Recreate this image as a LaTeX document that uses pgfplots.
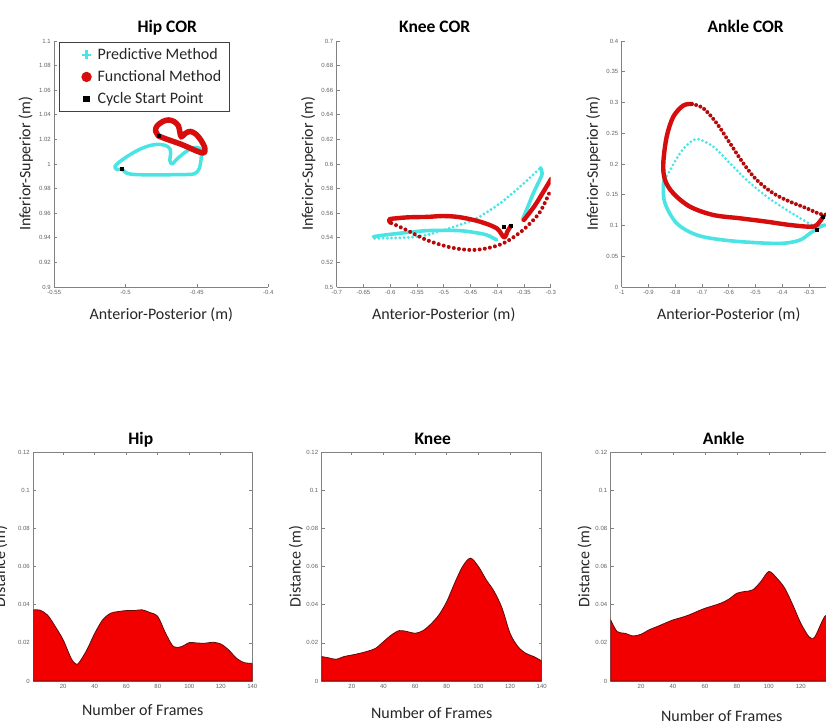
\documentclass[border=0pt]{standalone}
\usepackage{pgfplots}
\pgfplotsset{compat=1.18}
\usepackage{fontspec}
\setmainfont{Carlito}
\newfontfamily\tickfont{Liberation Sans}

\definecolor{cy}{RGB}{75,228,228}
\definecolor{rd}{RGB}{215,12,12}
\definecolor{rdd}{RGB}{180,10,10}
\definecolor{fillred}{RGB}{242,0,0}
\definecolor{edge}{RGB}{95,12,12}
\definecolor{axgray}{RGB}{130,130,130}

\pgfplotsset{
  matlab/.style={
    scale only axis,
    tick align=inside,
    major tick length=3pt,
    axis line style={axgray, line width=0.7pt},
    every tick/.style={axgray, line width=0.6pt},
    tick label style={font=\fontsize{6}{7}\selectfont\tickfont, text=black!62},
    /pgf/number format/assume math mode=true,
    /pgf/number format/fixed,
    /pgf/number format/precision=2,
  },
  topcor/.style={
    matlab, width=214pt, height=246pt,
    axis x line*=bottom, axis y line*=left,
    x axis line style={-}, y axis line style={-},
    xlabel={Anterior-Posterior (m)}, ylabel={Inferior-Superior (m)},
    every axis x label/.style={at={(axis description cs:0.5,-0.114)}, anchor=center, font=\fontsize{16}{18}\selectfont, text=black!85},
    every axis y label/.style={at={(axis description cs:-0.133,0.5)}, anchor=center, rotate=90, font=\fontsize{16}{18}\selectfont, text=black!85},
    every axis title/.style={at={(axis description cs:0.5,1)}, anchor=base, yshift=8pt, font=\fontsize{17.5}{19}\selectfont\bfseries},
  },
  bot/.style={
    matlab, height=229pt,
    xmin=1, xmax=140, ymin=0, ymax=0.12,
    xtick={20,40,60,80,100,120,140},
    ytick={0,0.02,0.04,0.06,0.08,0.1,0.12},
    xlabel={Number of Frames}, ylabel={Distance (m)},
    every axis y label/.style={at={(axis description cs:#1,0.5)}, anchor=center, rotate=90, font=\fontsize{16}{18}\selectfont, text=black!85},
    every axis title/.style={at={(axis description cs:0.5,1)}, anchor=base, yshift=7pt, font=\fontsize{17.5}{19}\selectfont\bfseries},
  },
  dense/.style={forget plot, smooth, tension=0.55, line cap=round, line join=round},
  dots/.style={forget plot, smooth, tension=0.55, line cap=round, dash pattern=on 0pt off #1},
}

\begin{document}
\begin{tikzpicture}
\useasboundingbox (0pt,0pt) rectangle (826pt,725pt);
\clip (0pt,0pt) rectangle (826pt,725pt);

%================ Hip COR =================
\begin{axis}[topcor, at={(54.3pt,438pt)}, anchor=south west,
  title={Hip COR}, title style={xshift=6pt},
  xmin=-0.55, xmax=-0.4, ymin=0.9, ymax=1.1,
  xtick={-0.55,-0.5,-0.45,-0.4},
  ytick={0.9,0.92,0.94,0.96,0.98,1,1.02,1.04,1.06,1.08,1.1},
  legend style={at={(axis description cs:0.022,0.996)}, anchor=north west,
    draw=black!75, line width=1.1pt, font=\fontsize{16}{18}\selectfont,
    text=black!85, row sep=5.5pt, inner xsep=6pt, inner ysep=4pt},
  legend cell align=left,
  legend image code/.code={\path[draw=none,fill=none] (0pt,0pt) -- (30pt,0pt); \path[#1,draw=none] (0pt,0pt); \pgfplotsset{#1}\draw[#1] plot[only marks] coordinates {(21pt,0pt)};},
]
\addlegendimage{only marks, mark=+, mark size=4.5pt, cy, line width=2.6pt}
\addlegendentry{Predictive Method}
\addlegendimage{only marks, mark=*, mark size=4.6pt, rd}
\addlegendentry{Functional Method}
\addlegendimage{only marks, mark=square*, mark size=2.6pt, black}
\addlegendentry{Cycle Start Point}

\addplot[dense, draw=cy, line width=3.5pt] coordinates {
(-0.5028,0.9960) (-0.4990,0.9925) (-0.4940,0.9915) (-0.4870,0.9912) (-0.4790,0.9912)
(-0.4710,0.9912) (-0.4630,0.9914) (-0.4560,0.9915) (-0.4515,0.9922) (-0.4485,0.9960)
(-0.4472,1.0030) (-0.4470,1.0090) (-0.4480,1.0125) (-0.4510,1.0135) (-0.4550,1.0120)
(-0.4595,1.0085) (-0.4640,1.0040) (-0.4675,1.0000) (-0.4690,1.0030) (-0.4685,1.0080)
(-0.4690,1.0125) (-0.4720,1.0150) (-0.4770,1.0160) (-0.4830,1.0150) (-0.4900,1.0120)
(-0.4970,1.0075) (-0.5040,1.0020) (-0.5075,0.9980) (-0.5060,0.9955) (-0.5028,0.9960)};
\addplot[dense, draw=rd, line width=5.5pt] coordinates {
(-0.4770,1.0228) (-0.4790,1.0270) (-0.4780,1.0310) (-0.4740,1.0345) (-0.4700,1.0358)
(-0.4660,1.0345) (-0.4630,1.0310) (-0.4620,1.0260) (-0.4610,1.0220) (-0.4580,1.0250)
(-0.4545,1.0265) (-0.4505,1.0240) (-0.4470,1.0190) (-0.4445,1.0130) (-0.4450,1.0090)
(-0.4490,1.0100) (-0.4550,1.0130) (-0.4610,1.0160) (-0.4670,1.0185) (-0.4720,1.0205)
(-0.4770,1.0228)};
\addplot[forget plot, only marks, mark=square*, mark size=1.5pt, black] coordinates {
(-0.5028,0.9960) (-0.4770,1.0228)};
\end{axis}

%================ Knee COR =================
\begin{axis}[topcor, at={(336.7pt,438pt)}, anchor=south west,
  title={Knee COR}, title style={xshift=-9pt},
  xmin=-0.7, xmax=-0.3, ymin=0.5, ymax=0.7,
  xtick={-0.7,-0.65,-0.6,-0.55,-0.5,-0.45,-0.4,-0.35,-0.3},
  ytick={0.5,0.52,0.54,0.56,0.58,0.6,0.62,0.64,0.66,0.68,0.7},
]
\addplot[dense, draw=cy, line width=3.6pt] coordinates {
(-0.4009,0.5382) (-0.4196,0.5423) (-0.4450,0.5445) (-0.4695,0.5458) (-0.5000,0.5460)
(-0.5318,0.5458) (-0.5650,0.5445) (-0.5942,0.5431) (-0.6150,0.5420) (-0.6316,0.5409)};
\addplot[dots=4.2pt, draw=cy, line width=3.2pt] coordinates {
(-0.6290,0.5395) (-0.6000,0.5398) (-0.5630,0.5404) (-0.5300,0.5425) (-0.5007,0.5463)
(-0.4700,0.5505) (-0.4383,0.5558) (-0.3948,0.5680) (-0.3574,0.5815) (-0.3200,0.5965)};
\addplot[dense, draw=cy, line width=3.6pt] coordinates {
(-0.3190,0.5970) (-0.3160,0.5920) (-0.3240,0.5840) (-0.3325,0.5762) (-0.3420,0.5660) (-0.3530,0.5545)};
\addplot[dense, draw=rd, line width=4.4pt] coordinates {
(-0.3748,0.5496) (-0.3810,0.5450) (-0.3873,0.5404) (-0.4009,0.5477) (-0.4321,0.5531)
(-0.4695,0.5567) (-0.5007,0.5577) (-0.5300,0.5570) (-0.5630,0.5567) (-0.5850,0.5560)
(-0.6017,0.5550) (-0.6000,0.5525)};
\addplot[dots=5.2pt, draw=rdd, line width=4pt] coordinates {
(-0.5980,0.5520) (-0.5692,0.5463) (-0.5318,0.5382) (-0.4882,0.5323) (-0.4508,0.5301)
(-0.4196,0.5314) (-0.3886,0.5355) (-0.3636,0.5423) (-0.3449,0.5490) (-0.3200,0.5610) (-0.3010,0.5780)};
\addplot[dense, draw=rd, line width=4.4pt] coordinates {
(-0.3500,0.5545) (-0.3300,0.5660) (-0.3135,0.5775) (-0.2990,0.5880)};
\addplot[forget plot, only marks, mark=square*, mark size=1.5pt, black] coordinates {
(-0.3886,0.5490) (-0.3748,0.5496)};
\end{axis}

%================ Ankle COR =================
\begin{axis}[topcor, at={(621.7pt,438pt)}, anchor=south west,
  title={Ankle COR}, title style={xshift=17pt},
  xmin=-1, xmax=-0.2, ymin=0, ymax=0.4,
  xtick={-1,-0.9,-0.8,-0.7,-0.6,-0.5,-0.4,-0.3,-0.2},
  ytick={0,0.05,0.1,0.15,0.2,0.25,0.3,0.35,0.4},
]
\addplot[dense, draw=cy, line width=3.6pt] coordinates {
(-0.2397,0.1008) (-0.2587,0.0980) (-0.2960,0.0873) (-0.3335,0.0764) (-0.3959,0.0711)
(-0.4953,0.0720) (-0.6202,0.0764) (-0.7196,0.0846) (-0.7944,0.1036) (-0.8381,0.1361)
(-0.8445,0.1631) (-0.8400,0.1750)};
\addplot[dots=4.2pt, draw=cy, line width=3pt] coordinates {
(-0.8400,0.1750) (-0.8258,0.1849) (-0.7820,0.2174) (-0.7450,0.2350) (-0.7136,0.2402)
(-0.6576,0.2282) (-0.5951,0.2011) (-0.5329,0.1740) (-0.4579,0.1469) (-0.3832,0.1252)
(-0.3211,0.1089) (-0.2774,0.0980) (-0.2500,0.0960)};
\addplot[dense, draw=rd, line width=4.4pt] coordinates {
(-0.2464,0.1143) (-0.2710,0.1008) (-0.2960,0.0980) (-0.3708,0.1008) (-0.4579,0.1062)
(-0.5578,0.1117) (-0.6576,0.1171) (-0.7447,0.1306) (-0.8071,0.1523) (-0.8381,0.1740)
(-0.8445,0.2011) (-0.8318,0.2444) (-0.8071,0.2769) (-0.7700,0.2950) (-0.7383,0.2976)};
\addplot[dots=4.5pt, draw=rdd, line width=4pt] coordinates {
(-0.7383,0.2976) (-0.6950,0.2906) (-0.6449,0.2662) (-0.5951,0.2337) (-0.5454,0.2011)
(-0.4953,0.1740) (-0.4333,0.1523) (-0.3708,0.1387) (-0.3084,0.1280) (-0.2587,0.1187) (-0.2300,0.1180)};
\addplot[forget plot, only marks, mark=square*, mark size=1.5pt, black] coordinates {
(-0.2710,0.0938) (-0.2486,0.1143)};
\end{axis}

%================ Hip distance =================
\begin{axis}[bot=-0.15, width=219pt, at={(33.3pt,44pt)}, anchor=south west,
  title={Hip}, title style={xshift=-2pt},
  every axis x label/.style={at={(axis description cs:0.5,-0.127)}, anchor=center, font=\fontsize{16}{18}\selectfont, text=black!85},
]
\addplot[fill=fillred, draw=edge, line width=0.8pt, smooth, tension=0.5] coordinates {
(1,0.0372) (5,0.0372) (10,0.0346) (15,0.0285) (20,0.0215) (25,0.0119) (28,0.0089)
(30,0.0096) (35,0.0163) (40,0.0250) (45,0.0320) (50,0.0355) (55,0.0364) (60,0.0369)
(65,0.0369) (70,0.0373) (75,0.0359) (80,0.0338) (85,0.0250) (90,0.0180) (95,0.0180)
(100,0.0201) (105,0.0199) (110,0.0198) (115,0.0203) (120,0.0194) (125,0.0163)
(130,0.0119) (135,0.0096) (140,0.0093)} \closedcycle;
\end{axis}

%================ Knee distance =================
\begin{axis}[bot=-0.117, width=220pt, at={(321.7pt,44pt)}, anchor=south west,
  title={Knee}, title style={xshift=1pt},
  every axis x label/.style={at={(axis description cs:0.5,-0.14)}, anchor=center, font=\fontsize{16}{18}\selectfont, text=black!85},
]
\addplot[fill=fillred, draw=edge, line width=0.8pt, smooth, tension=0.5] coordinates {
(1,0.0128) (5,0.0122) (10,0.0114) (15,0.0128) (20,0.0136) (25,0.0145) (30,0.0156)
(35,0.0171) (40,0.0206) (45,0.0241) (50,0.0264) (55,0.0259) (60,0.0250) (65,0.0264)
(70,0.0299) (75,0.0346) (80,0.0416) (85,0.0513) (90,0.0600) (95,0.0644) (100,0.0600)
(105,0.0530) (110,0.0469) (115,0.0381) (120,0.0250) (125,0.0180) (130,0.0145)
(135,0.0128) (140,0.0105)} \closedcycle;
\end{axis}

%================ Ankle distance =================
\begin{axis}[bot=-0.117, width=222pt, at={(610.7pt,44pt)}, anchor=south west,
  title={Ankle}, title style={xshift=2pt},
  every axis x label/.style={at={(axis description cs:0.5,-0.153)}, anchor=center, font=\fontsize{16}{18}\selectfont, text=black!85},
]
\addplot[fill=fillred, draw=edge, line width=0.8pt, smooth, tension=0.5] coordinates {
(1,0.0320) (5,0.0259) (10,0.0250) (15,0.0236) (20,0.0245) (25,0.0268) (30,0.0285)
(35,0.0303) (40,0.0320) (45,0.0332) (50,0.0346) (55,0.0364) (60,0.0381) (65,0.0394)
(70,0.0408) (75,0.0429) (80,0.0460) (85,0.0469) (90,0.0478) (95,0.0521) (100,0.0574)
(105,0.0539) (110,0.0486) (115,0.0399) (120,0.0303) (125,0.0233) (128,0.0224)
(130,0.0250) (135,0.0338) (140,0.0360)} \closedcycle;
\end{axis}
\end{tikzpicture}
\end{document}
